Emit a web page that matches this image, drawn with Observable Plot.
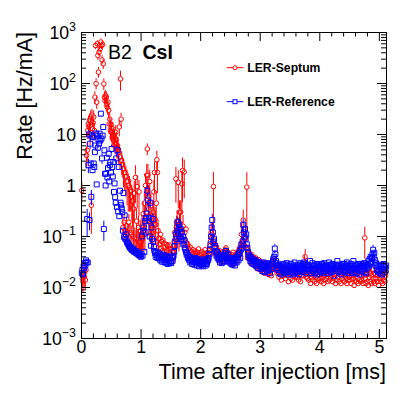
<!DOCTYPE html>
<html><head><meta charset="utf-8">
<script src="https://cdn.jsdelivr.net/npm/d3@7"></script>
<script src="https://cdn.jsdelivr.net/npm/@observablehq/plot@0.6"></script>
<style>body{margin:0;background:#fff}</style>
</head><body><div id="chart"></div><script>
// Rate [Hz/mA] in 0.01 ms bins starting at t = 0
const septumRate = [
0.8,0.015,0.013,0.018,0.016,0.021,0.014,0.022,3.9,4.9,
12,16,14,19,10,22,0.41,24,13,17,
22,12,54,555,100,43,600,355,167,410,
555,480,650,555,290,580,243,98,54,46,
58,54,40,34,43,30,16,20,12,15.6,
11,8.9,13,10,7.5,9,6.5,11,8,5.5,
6,5.2,4.5,14,3.6,123,20,3.1,2.6,0.15,
2.1,0.19,1.8,0.13,1.5,0.16,1.2,0.12,1.0,0.19,
0.9,0.12,0.8,0.11,0.6,0.5,0.1,0.35,0.7,0.095,
1.44,0.09,0.2,0.95,0.085,0.15,0.75,0.08,0.13,0.077,
0.1,0.16,0.09,0.28,0.13,0.45,0.11,1.0,0.3,1.6,
5.2,1.6,0.6,0.25,1.2,0.18,0.4,0.15,0.22,0.12,
0.3,0.75,1.8,0.22,0.17,0.45,3.2,1.8,0.13,0.09,
0.071,0.092,0.11,0.058,0.08,0.052,0.085,0.062,0.074,0.05,
0.062,0.045,0.07,0.052,0.066,0.041,0.058,0.068,0.047,0.055,
0.044,0.058,0.05,0.04,0.065,0.08,0.12,0.09,1.35,0.15,
0.2,0.11,1.15,0.14,0.3,0.18,0.3,0.12,1.08,1.96,
0.16,0.1,1.85,0.12,0.085,0.14,0.075,0.065,0.07,0.055,
0.058,0.04,0.062,0.037,0.05,0.045,0.034,0.055,0.048,0.039,
0.052,0.036,0.046,0.031,0.049,0.042,0.057,0.035,0.044,0.038,
0.047,0.033,0.05,0.038,0.029,0.046,0.04,0.055,0.032,0.043,
0.036,0.049,0.034,0.046,0.052,0.065,0.08,0.12,0.094,0.11,
0.075,0.95,0.085,0.06,0.07,0.046,0.062,0.041,0.053,0.037,
0.048,0.034,0.052,0.04,0.031,0.045,0.05,0.033,0.043,0.036,
0.047,0.055,0.06,0.042,0.05,0.038,0.048,0.032,0.045,0.036,
0.04,0.03,0.044,0.035,0.049,0.029,0.041,0.034,0.038,0.045,
0.033,0.048,0.05,0.038,0.055,0.06,0.044,0.07,0.11,0.065,
0.08,0.21,0.07,0.09,0.065,0.094,0.06,0.93,0.055,0.048,
0.05,0.037,0.042,0.031,0.045,0.034,0.039,0.028,0.04,0.033,
0.036,0.027,0.038,0.025,0.034,0.03,0.023,0.035,0.027,0.031,
0.032,0.022,0.028,0.025,0.02,0.031,0.024,0.019,0.029,0.021,
0.027,0.02,0.025,0.018,0.029,0.022,0.019,0.026,0.017,0.024,
0.026,0.033,0.024,0.036,0.028,0.031,0.022,0.027,0.019,0.024,
0.02,0.016,0.024,0.018,0.022,0.014,0.021,0.019,0.025,0.017,
0.019,0.023,0.015,0.02,0.024,0.017,0.021,0.013,0.019,0.022,
0.018,0.015,0.023,0.02,0.014,0.022,0.017,0.025,0.016,0.02,
0.021,0.024,0.016,0.019,0.014,0.023,0.018,0.013,0.022,0.017,
0.02,0.026,0.017,0.024,0.03,0.04,0.022,0.016,0.021,0.015,
0.019,0.014,0.023,0.018,0.012,0.021,0.016,0.022,0.014,0.019,
0.017,0.013,0.022,0.016,0.012,0.02,0.015,0.021,0.014,0.018,
0.015,0.021,0.013,0.018,0.024,0.016,0.012,0.02,0.017,0.014,
0.02,0.015,0.022,0.013,0.018,0.021,0.014,0.019,0.016,0.023,
0.017,0.013,0.02,0.015,0.024,0.018,0.012,0.019,0.014,0.021,
0.016,0.022,0.013,0.018,0.021,0.012,0.019,0.015,0.022,0.014,
0.019,0.013,0.017,0.021,0.015,0.012,0.02,0.014,0.018,0.016,
0.014,0.02,0.012,0.017,0.022,0.015,0.018,0.011,0.019,0.014,
0.018,0.013,0.021,0.015,0.012,0.019,0.014,0.022,0.013,0.017,
0.014,0.019,0.012,0.017,0.021,0.094,0.015,0.012,0.019,0.013,
0.018,0.011,0.016,0.021,0.013,0.019,0.012,0.017,0.022,0.015,
0.013,0.019,0.012,0.018,0.015,0.021,0.013,0.017,0.011,0.019,
0.015,0.02,0.013,0.018,0.016,0.012,0.021,0.014,0.019,0.013,
0.017,0.02
];
const referenceRate = [
0.019,0.022,0.018,0.026,0.024,0.03,0.027,0.034,0.031,0.22,
0.031,2.5,10,0.21,6.6,2.7,0.6,9.5,2.0,8.9,
2.7,2.3,4.5,6.1,10.4,1.05,9.5,5.5,8,6.6,
10.4,7.6,25.6,8.3,3.4,9.5,14,0.14,4.9,1.7,
1.0,1.7,3.5,1.44,2.2,4.2,1.2,2.5,2.9,1.8,
5.2,2.3,1.5,2.9,0.75,1.1,0.59,0.46,3.4,0.38,
4.9,0.31,2.3,0.25,0.79,0.46,0.41,0.35,0.3,0.13,
0.71,0.098,0.26,0.09,0.11,0.085,0.077,0.075,0.07,0.066,
0.064,0.06,0.062,0.057,0.055,0.054,0.058,0.052,0.05,0.053,
0.05,0.048,0.047,0.051,0.045,0.047,0.043,0.046,0.042,0.04,
0.045,0.1,0.042,0.13,0.15,0.05,0.2,0.12,0.23,0.28,
0.79,0.51,0.2,0.23,0.1,0.46,0.066,0.15,0.09,0.22,
0.08,0.062,0.052,0.047,0.04,0.05,0.043,0.038,0.048,0.04,
0.037,0.045,0.034,0.042,0.039,0.032,0.044,0.035,0.041,0.031,
0.039,0.031,0.042,0.035,0.029,0.04,0.033,0.03,0.038,0.032,
0.03,0.038,0.033,0.04,0.042,0.05,0.065,0.08,0.11,0.09,
0.13,0.19,0.12,0.17,0.15,0.1,0.14,0.09,0.12,0.08,
0.1,0.07,0.085,0.06,0.055,0.05,0.044,0.047,0.038,0.042,
0.035,0.04,0.031,0.038,0.033,0.029,0.037,0.032,0.036,0.028,
0.034,0.038,0.03,0.027,0.036,0.031,0.035,0.026,0.033,0.029,
0.035,0.028,0.033,0.03,0.026,0.034,0.029,0.036,0.027,0.031,
0.029,0.033,0.035,0.038,0.045,0.055,0.07,0.1,0.15,0.21,
0.12,0.077,0.09,0.06,0.065,0.05,0.042,0.05,0.038,0.045,
0.035,0.04,0.031,0.037,0.042,0.03,0.038,0.033,0.04,0.032,
0.043,0.048,0.052,0.04,0.036,0.045,0.033,0.038,0.031,0.036,
0.033,0.029,0.038,0.028,0.035,0.03,0.037,0.027,0.034,0.039,
0.031,0.04,0.043,0.034,0.046,0.05,0.038,0.055,0.07,0.06,
0.08,0.17,0.12,0.1,0.14,0.09,0.11,0.07,0.06,0.05,
0.044,0.038,0.041,0.033,0.039,0.03,0.036,0.034,0.029,0.033,
0.035,0.028,0.033,0.026,0.032,0.03,0.024,0.031,0.027,0.029,
0.03,0.023,0.028,0.021,0.027,0.031,0.024,0.02,0.029,0.025,
0.027,0.021,0.026,0.03,0.022,0.028,0.019,0.025,0.029,0.023,
0.029,0.034,0.037,0.04,0.058,0.045,0.033,0.03,0.024,0.027,
0.022,0.028,0.019,0.026,0.024,0.018,0.027,0.021,0.029,0.02,
0.025,0.019,0.028,0.022,0.03,0.02,0.024,0.027,0.018,0.026,
0.021,0.029,0.02,0.025,0.018,0.027,0.022,0.031,0.019,0.026,
0.025,0.02,0.028,0.021,0.026,0.018,0.024,0.03,0.022,0.027,
0.02,0.029,0.023,0.031,0.026,0.021,0.028,0.019,0.025,0.023,
0.028,0.021,0.026,0.033,0.023,0.019,0.026,0.03,0.021,0.027,
0.023,0.019,0.027,0.022,0.029,0.018,0.025,0.02,0.028,0.022,
0.026,0.02,0.024,0.029,0.021,0.027,0.019,0.03,0.023,0.021,
0.028,0.021,0.026,0.019,0.024,0.031,0.022,0.027,0.02,0.028,
0.023,0.029,0.021,0.026,0.017,0.024,0.028,0.021,0.026,0.033,
0.026,0.02,0.028,0.023,0.021,0.027,0.018,0.025,0.029,0.021,
0.024,0.029,0.02,0.027,0.022,0.031,0.025,0.019,0.027,0.022,
0.027,0.021,0.029,0.024,0.019,0.026,0.033,0.023,0.02,0.028,
0.024,0.019,0.027,0.022,0.029,0.025,0.018,0.027,0.021,0.029,
0.026,0.021,0.028,0.023,0.03,0.02,0.026,0.019,0.028,0.024,
0.027,0.033,0.026,0.036,0.029,0.04,0.031,0.038,0.045,0.055,
0.04,0.048,0.035,0.028,0.03,0.022,0.027,0.02,0.026,0.021,
0.026,0.019,0.028,0.023,0.018,0.027,0.022,0.029,0.02,0.025,
0.022,0.027
];
// absolute errors of the septum rate, bins 0..129
const septumErrEarly = [
0.35,0.005,0.005,0.006,0.006,0.007,0.005,0.007,1.8,2.0,
4,5,4.5,6,4,7,0.3,7,4.5,4,
7,4.5,15,90,25,12,90,70,40,75,
90,80,100,90,60,95,55,25,15,13,
15,14,11,10,12,9,6,6.5,4.5,5,
4,3.5,4.5,3.5,3,3.5,2.5,4,3,2.2,
2.5,2.2,2,5,1.6,52,6,1.5,1.2,0.07,
1.2,0.08,1.0,0.06,0.9,0.08,0.8,0.06,0.7,0.08,
0.6,0.06,0.5,0.05,0.4,0.35,0.05,0.3,0.5,0.05,
1.0,0.04,0.15,0.6,0.04,0.1,0.5,0.04,0.08,0.035,
0.05,0.1,0.04,0.2,0.08,0.3,0.06,0.7,0.2,1.0,
1.35,1.0,0.4,0.15,0.8,0.1,0.3,0.1,0.15,0.06,
0.2,0.5,1.1,0.15,0.1,0.3,1.5,1.1,0.08,0.05
];
// [bin, absolute error] for later septum bins with visible bars
const septumErrSparse = [
[156,0.08],[157,0.06],[158,0.9],[159,0.1],[160,0.12],[162,0.8],[163,0.09],[164,0.2],[165,0.12],[166,0.2],
[168,0.8],[169,1.5],[170,0.1],[172,1.3],[217,0.07],[219,0.07],[221,0.85],[268,0.07],[271,0.12],[275,0.06],
[277,0.85],[374,0.012],[375,0.015],[475,0.058]
];
const referenceErrSparse = [
[9,0.12],[11,0.8],[12,2],[13,0.08],[14,1.5],[16,0.2],[17,1.5],[19,1.5],[24,1.5],[26,1.3],
[32,3],[34,0.8],[36,2],[37,0.06],[50,1],[58,0.8],[60,1],[109,0.08],[110,0.2],[111,0.15],[115,0.1],[119,0.06],
[161,0.05],[163,0.05],[219,0.06],[220,0.04],[271,0.05],[274,0.04],[324,0.012],[489,0.012],[490,0.01]
];
const xTickValues = [0, 1, 2, 3, 4, 5];
const yDecades = [1e-3, 1e-2, 1e-1, 1, 10, 100, 1000];
const yExponents = ["\u22123", "\u22122", "\u22121", "", "", "2", "3"];
const seriesNames = ["LER-Septum", "LER-Reference"];
const titleParts = ["B2", "CsI"];
const xTitle = "Time after injection [ms]";
const yTitle = "Rate [Hz/mA]";

const FONT = "'Liberation Sans', Arial, Helvetica, sans-serif";
const RED = "#ff0000", BLUE = "#0000ff";
const binWidth = 0.01;

function build(values, errFull, errSparse) {
  const err = new Map();
  (errFull || []).forEach((e, i) => err.set(i, e));
  errSparse.forEach(([i, e]) => err.set(i, e));
  return values.map((v, i) => {
    const e = err.get(i) || 0;
    return {t: (i + 0.5) * binWidth, v, lo: Math.max(v - e, 1.05e-3), hi: v + e, e};
  });
}
const sep = build(septumRate, septumErrEarly, septumErrSparse);
const ref = build(referenceRate, null, referenceErrSparse);
const sepBars = sep.filter(d => d.e > 0);
const refBars = ref.filter(d => d.e > 0);

const xMinor = d3.range(0.2, 5.12, 0.2).filter(d => Math.abs(d - Math.round(d)) > 1e-6);
const yMinor = [];
for (const dec of [1e-3, 1e-2, 1e-1, 1, 10, 100]) for (let k = 2; k <= 9; k++) yMinor.push(dec * k);

const W = 405, H = 394, mL = 81, mR = 19, mT = 32, mB = 56;
const fw = W - mL - mR, fh = H - mT - mB;

const plot = Plot.plot({
  width: W, height: H,
  marginLeft: mL, marginRight: mR, marginTop: mT, marginBottom: mB,
  x: {domain: [0, 5.12], axis: null},
  y: {type: "log", domain: [1e-3, 1e3], axis: null},
  style: {fontFamily: FONT, background: "white", overflow: "visible"},
  marks: [
    Plot.ruleX(sepBars, {x: "t", y1: "hi", y2: "v", insetBottom: 2.3, stroke: RED, strokeWidth: 1}),
    Plot.ruleX(sepBars, {x: "t", y1: "v", y2: "lo", insetTop: 2.3, stroke: RED, strokeWidth: 1}),
    Plot.dot(sep, {x: "t", y: "v", r: 2.3, stroke: RED, fill: "none", strokeWidth: 1}),
    Plot.ruleX(refBars, {x: "t", y1: "hi", y2: "v", insetBottom: 2.5, stroke: BLUE, strokeWidth: 1}),
    Plot.ruleX(refBars, {x: "t", y1: "v", y2: "lo", insetTop: 2.5, stroke: BLUE, strokeWidth: 1}),
    Plot.dot(ref, {x: "t", y: "v", r: 2.8, symbol: "square", stroke: BLUE, fill: "none", strokeWidth: 1}),
    // ticks, inward, on all four sides
    Plot.tickX(xTickValues, {x: d => d, insetTop: fh - 9, stroke: "black"}),
    Plot.tickX(xMinor, {x: d => d, insetTop: fh - 4.5, stroke: "black"}),
    Plot.tickX(xTickValues, {x: d => d, insetBottom: fh - 9, stroke: "black"}),
    Plot.tickX(xMinor, {x: d => d, insetBottom: fh - 4.5, stroke: "black"}),
    Plot.tickY(yDecades, {y: d => d, insetRight: fw - 9, stroke: "black"}),
    Plot.tickY(yMinor, {y: d => d, insetRight: fw - 5, stroke: "black"}),
    Plot.tickY(yDecades, {y: d => d, insetLeft: fw - 9, stroke: "black"}),
    Plot.tickY(yMinor, {y: d => d, insetLeft: fw - 5, stroke: "black"}),
    Plot.frame({stroke: "black", strokeWidth: 1}),
    Plot.text(xTickValues, {x: d => d, frameAnchor: "bottom", dy: 14.5, text: d => String(d), fontSize: 17.7, fill: "black"})
  ]
});
document.getElementById("chart").appendChild(plot);

const svg = d3.select(plot);
const sy = plot.scale("y");
yDecades.forEach((v, k) => {
  const y = sy.apply(v) + 7;
  const t = svg.append("text").attr("x", 76).attr("y", y).attr("text-anchor", "end")
    .attr("font-family", FONT).attr("font-size", 17.7).attr("fill", "black");
  if (v === 1) t.text("1");
  else if (v === 10) t.text("10");
  else {
    t.append("tspan").text("10");
    t.append("tspan").attr("dy", -8).attr("font-size", 12.4).text(yExponents[k]);
  }
});
// axis titles
svg.append("text").attr("x", W - mR).attr("y", 379).attr("text-anchor", "end")
  .attr("font-family", FONT).attr("font-size", 21.5).attr("fill", "black").text(xTitle);
svg.append("text").attr("transform", `translate(32,${mT}) rotate(-90)`).attr("text-anchor", "end")
  .attr("font-family", FONT).attr("font-size", 21.5).attr("fill", "black").text(yTitle);
// label
svg.append("text").attr("x", 108).attr("y", 59).attr("text-anchor", "start").attr("font-family", FONT).attr("font-size", 19.5)
  .attr("fill", "black").text(titleParts[0]);
svg.append("text").attr("x", 142.5).attr("y", 59).attr("text-anchor", "start").attr("font-family", FONT).attr("font-size", 19.5)
  .attr("font-weight", "bold").attr("fill", "black").text(titleParts[1]);
// legend
const leg = [{name: seriesNames[0], c: RED, y: 67.7, sq: false}, {name: seriesNames[1], c: BLUE, y: 101.7, sq: true}];
leg.forEach(L => {
  svg.append("line").attr("x1", 226.7).attr("x2", 243.3).attr("y1", L.y).attr("y2", L.y).attr("stroke", L.c).attr("stroke-width", 1);
  if (L.sq) svg.append("rect").attr("x", 233).attr("y", L.y - 2).attr("width", 4).attr("height", 4).attr("fill", "white").attr("stroke", L.c);
  else svg.append("circle").attr("cx", 235).attr("cy", L.y).attr("r", 2).attr("fill", "white").attr("stroke", L.c);
  svg.append("text").attr("x", 247.3).attr("y", L.y + 3.8).attr("text-anchor", "start").attr("font-family", FONT).attr("font-size", 12.2)
    .attr("font-weight", "bold").attr("fill", "black").text(L.name);
});
</script></body></html>
